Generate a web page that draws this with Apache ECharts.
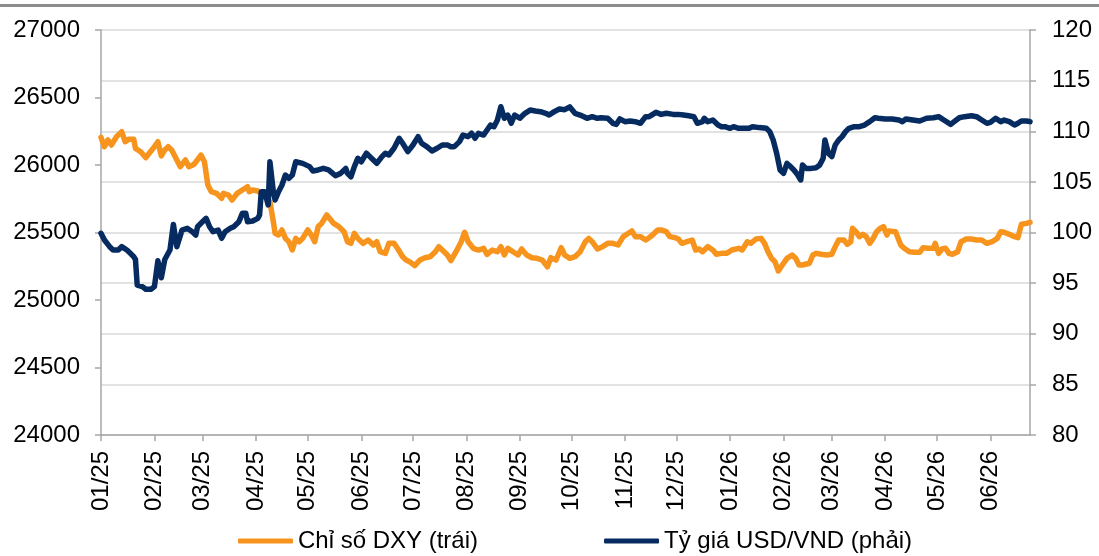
<!DOCTYPE html>
<html>
<head>
<meta charset="utf-8">
<script src="https://cdn.jsdelivr.net/npm/echarts@6/dist/echarts.min.js"></script>
<style>
html,body{margin:0;padding:0;background:#fff;}
#c{width:1099px;height:556px;}
</style>
</head>
<body>
<div id="c"></div>
<script>
// ---- data ----
const seriesNames = ['Chỉ số DXY (trái)', 'Tỷ giá USD/VND (phải)'];
const axisStart = '2025-01-01';
const axisEnd = '2026-06-24';

const dxyDates = ['2025-01-01','2025-01-03','2025-01-05','2025-01-07','2025-01-10','2025-01-13','2025-01-15','2025-01-17','2025-01-20','2025-01-21','2025-01-24','2025-01-27','2025-01-28','2025-01-30','2025-02-01','2025-02-03','2025-02-05','2025-02-07','2025-02-09','2025-02-11','2025-02-14','2025-02-16','2025-02-19','2025-02-21','2025-02-24','2025-02-25','2025-02-28','2025-03-02','2025-03-04','2025-03-06','2025-03-09','2025-03-12','2025-03-13','2025-03-16','2025-03-18','2025-03-21','2025-03-24','2025-03-27','2025-03-28','2025-03-30','2025-04-02','2025-04-07','2025-04-09','2025-04-11','2025-04-12','2025-04-14','2025-04-16','2025-04-18','2025-04-20','2025-04-22','2025-04-24','2025-04-26','2025-04-28','2025-05-01','2025-05-03','2025-05-05','2025-05-07','2025-05-09','2025-05-12','2025-05-13','2025-05-16','2025-05-19','2025-05-22','2025-05-24','2025-05-26','2025-05-28','2025-05-30','2025-06-02','2025-06-05','2025-06-08','2025-06-10','2025-06-12','2025-06-15','2025-06-17','2025-06-20','2025-06-22','2025-06-25','2025-06-27','2025-06-29','2025-07-02','2025-07-05','2025-07-08','2025-07-11','2025-07-14','2025-07-16','2025-07-18','2025-07-21','2025-07-23','2025-07-26','2025-07-29','2025-07-31','2025-08-02','2025-08-05','2025-08-08','2025-08-11','2025-08-13','2025-08-16','2025-08-19','2025-08-21','2025-08-23','2025-08-25','2025-08-28','2025-08-31','2025-09-02','2025-09-05','2025-09-08','2025-09-11','2025-09-14','2025-09-17','2025-09-19','2025-09-22','2025-09-25','2025-09-27','2025-09-30','2025-10-03','2025-10-06','2025-10-09','2025-10-11','2025-10-13','2025-10-14','2025-10-16','2025-10-19','2025-10-22','2025-10-25','2025-10-28','2025-10-31','2025-11-03','2025-11-05','2025-11-07','2025-11-10','2025-11-13','2025-11-15','2025-11-17','2025-11-20','2025-11-22','2025-11-25','2025-11-27','2025-11-30','2025-12-02','2025-12-04','2025-12-07','2025-12-10','2025-12-12','2025-12-14','2025-12-16','2025-12-19','2025-12-22','2025-12-24','2025-12-27','2025-12-30','2026-01-02','2026-01-06','2026-01-08','2026-01-11','2026-01-13','2026-01-16','2026-01-19','2026-01-21','2026-01-23','2026-01-25','2026-01-27','2026-01-29','2026-01-30','2026-02-01','2026-02-03','2026-02-06','2026-02-08','2026-02-10','2026-02-12','2026-02-16','2026-02-18','2026-02-20','2026-02-23','2026-02-26','2026-03-01','2026-03-03','2026-03-05','2026-03-08','2026-03-10','2026-03-12','2026-03-13','2026-03-15','2026-03-17','2026-03-19','2026-03-21','2026-03-23','2026-03-25','2026-03-27','2026-03-29','2026-03-31','2026-04-02','2026-04-03','2026-04-07','2026-04-10','2026-04-12','2026-04-15','2026-04-18','2026-04-21','2026-04-23','2026-04-26','2026-04-29','2026-04-30','2026-05-02','2026-05-04','2026-05-06','2026-05-08','2026-05-10','2026-05-13','2026-05-15','2026-05-18','2026-05-21','2026-05-24','2026-05-27','2026-05-30','2026-06-02','2026-06-05','2026-06-07','2026-06-09','2026-06-12','2026-06-15','2026-06-17','2026-06-19','2026-06-22','2026-06-24'];
const dxyValues = [109.40,108.47,109.14,108.64,109.46,109.96,108.97,109.20,109.20,108.31,107.98,107.39,107.49,108.05,108.47,108.97,107.56,108.15,108.47,108.15,107.16,106.50,107.16,106.50,106.74,106.60,107.65,106.99,104.69,104.03,103.87,103.38,103.87,103.70,103.21,103.87,104.20,104.52,104.03,104.20,104.10,103.38,103.05,101.07,99.92,99.75,100.25,99.42,99.09,98.27,99.42,99.09,99.42,100.25,99.75,99.09,100.58,100.90,101.73,101.56,100.90,100.58,100.08,99.09,98.93,99.92,99.42,98.93,99.26,98.77,99.09,98.10,97.94,98.93,98.93,98.44,97.61,97.28,97.12,96.72,97.28,97.51,97.61,98.10,98.60,98.27,97.78,97.22,98.10,99.09,100.02,99.09,98.44,98.27,98.44,97.85,98.27,98.10,98.60,97.78,98.44,98.10,97.78,98.37,97.78,97.51,97.45,97.28,96.62,97.51,97.28,98.50,97.78,97.45,97.61,98.10,99.09,99.42,99.09,99.16,98.37,98.60,98.93,98.93,98.77,99.59,99.92,100.15,99.59,99.59,99.26,99.49,99.75,100.25,100.25,100.08,99.59,99.49,99.36,98.93,99.09,99.26,98.27,98.37,98.10,98.60,98.27,97.85,97.94,97.94,98.27,98.44,98.27,99.09,98.93,99.36,99.42,98.93,98.10,97.45,97.12,96.20,96.30,96.96,97.45,97.78,97.45,96.79,96.79,96.96,97.78,97.94,97.85,97.78,97.85,98.60,99.26,99.26,98.83,99.09,100.41,100.08,99.59,99.82,99.59,98.93,99.42,100.08,100.40,100.58,99.75,100.15,100.08,98.77,98.44,98.10,98.04,98.04,98.50,98.44,98.44,98.93,97.94,98.37,98.44,97.94,97.85,98.10,99.09,99.36,99.36,99.26,99.26,98.93,99.09,99.42,100.08,100.02,99.82,99.59,99.49,100.81,100.90,101.00];

const vndDates = ['2025-01-01','2025-01-03','2025-01-06','2025-01-08','2025-01-11','2025-01-13','2025-01-16','2025-01-18','2025-01-20','2025-01-21','2025-01-22','2025-01-25','2025-01-27','2025-01-30','2025-02-01','2025-02-03','2025-02-05','2025-02-07','2025-02-10','2025-02-12','2025-02-14','2025-02-17','2025-02-20','2025-02-23','2025-02-25','2025-02-26','2025-02-28','2025-03-03','2025-03-05','2025-03-07','2025-03-10','2025-03-12','2025-03-14','2025-03-17','2025-03-19','2025-03-22','2025-03-24','2025-03-26','2025-03-27','2025-03-30','2025-04-02','2025-04-03','2025-04-04','2025-04-06','2025-04-08','2025-04-09','2025-04-11','2025-04-12','2025-04-14','2025-04-16','2025-04-18','2025-04-20','2025-04-22','2025-04-24','2025-04-25','2025-04-28','2025-05-02','2025-05-04','2025-05-07','2025-05-10','2025-05-13','2025-05-17','2025-05-20','2025-05-23','2025-05-24','2025-05-26','2025-05-28','2025-05-30','2025-06-01','2025-06-04','2025-06-06','2025-06-08','2025-06-10','2025-06-13','2025-06-15','2025-06-17','2025-06-20','2025-06-22','2025-06-23','2025-06-25','2025-06-28','2025-07-01','2025-07-04','2025-07-06','2025-07-09','2025-07-12','2025-07-15','2025-07-18','2025-07-21','2025-07-23','2025-07-25','2025-07-28','2025-07-30','2025-08-02','2025-08-04','2025-08-06','2025-08-08','2025-08-11','2025-08-13','2025-08-15','2025-08-17','2025-08-19','2025-08-21','2025-08-23','2025-08-25','2025-08-27','2025-08-29','2025-09-01','2025-09-04','2025-09-07','2025-09-10','2025-09-13','2025-09-16','2025-09-18','2025-09-21','2025-09-24','2025-09-27','2025-09-30','2025-10-03','2025-10-06','2025-10-10','2025-10-13','2025-10-16','2025-10-18','2025-10-22','2025-10-25','2025-10-27','2025-10-29','2025-11-01','2025-11-04','2025-11-07','2025-11-10','2025-11-13','2025-11-15','2025-11-19','2025-11-22','2025-11-25','2025-11-29','2025-12-02','2025-12-05','2025-12-08','2025-12-11','2025-12-13','2025-12-16','2025-12-17','2025-12-19','2025-12-22','2025-12-25','2025-12-27','2025-12-29','2026-01-01','2026-01-03','2026-01-06','2026-01-09','2026-01-12','2026-01-14','2026-01-18','2026-01-22','2026-01-24','2026-01-26','2026-01-28','2026-01-30','2026-02-01','2026-02-03','2026-02-05','2026-02-07','2026-02-09','2026-02-11','2026-02-12','2026-02-14','2026-02-17','2026-02-20','2026-02-22','2026-02-24','2026-02-25','2026-02-27','2026-03-01','2026-03-03','2026-03-05','2026-03-07','2026-03-09','2026-03-11','2026-03-12','2026-03-14','2026-03-17','2026-03-20','2026-03-23','2026-03-26','2026-03-28','2026-04-01','2026-04-05','2026-04-09','2026-04-11','2026-04-13','2026-04-17','2026-04-21','2026-04-25','2026-04-29','2026-05-02','2026-05-05','2026-05-09','2026-05-11','2026-05-14','2026-05-17','2026-05-21','2026-05-24','2026-05-27','2026-05-30','2026-06-01','2026-06-04','2026-06-07','2026-06-09','2026-06-12','2026-06-15','2026-06-17','2026-06-19','2026-06-22','2026-06-24'];
const vndValues = [25494,25444,25395,25370,25370,25395,25370,25346,25321,25300,25110,25099,25080,25080,25099,25290,25165,25300,25370,25560,25395,25518,25531,25506,25481,25543,25568,25605,25543,25506,25518,25457,25506,25531,25543,25580,25642,25642,25580,25585,25605,25630,25802,25802,25704,26024,25802,25741,25802,25852,25926,25901,25926,26024,26037,26012,25988,25956,25963,25975,25963,25921,25938,25975,25938,25913,25988,26050,26024,26087,26062,26037,26012,26062,26087,26074,26124,26173,26198,26161,26099,26148,26210,26161,26136,26104,26124,26148,26148,26136,26136,26173,26222,26210,26235,26198,26235,26222,26259,26296,26284,26333,26432,26346,26370,26309,26370,26346,26383,26407,26400,26395,26383,26370,26395,26415,26410,26430,26383,26370,26346,26358,26346,26350,26346,26309,26301,26341,26321,26326,26321,26309,26358,26358,26390,26375,26383,26375,26375,26370,26365,26358,26309,26321,26346,26321,26333,26296,26284,26284,26272,26284,26272,26272,26272,26284,26277,26272,26247,26185,26087,25963,25938,26012,25988,25963,25931,25889,26000,25975,25975,25980,26000,26050,26185,26087,26062,26148,26185,26210,26247,26272,26259,26284,26284,26296,26321,26350,26346,26341,26341,26333,26321,26341,26333,26326,26346,26350,26358,26333,26301,26321,26350,26358,26365,26358,26333,26309,26316,26346,26321,26333,26321,26296,26309,26326,26326,26321];

const leftTicks = {min: 24000, max: 27000, step: 500};
const rightTicks = {min: 80, max: 120, step: 5};

// ---- build category axis of calendar days ----
const days = [];
(function(){
  let t = Date.parse(axisStart + 'T00:00:00Z');
  const end = Date.parse(axisEnd + 'T00:00:00Z');
  while (t <= end) { days.push(new Date(t).toISOString().slice(0,10)); t += 86400000; }
})();
const dayIndex = {};
days.forEach((d,i)=>{ dayIndex[d] = i; });
const isMonthStart = (idx, val) => val.slice(8,10) === '01';

const FONT = '"Liberation Sans", Arial, sans-serif';
const GRAY = '#A6A6A6';

const chart = echarts.init(document.getElementById('c'), null, {renderer: 'canvas'});
chart.setOption({
  animation: false,
  backgroundColor: '#ffffff',
  textStyle: {fontFamily: FONT},
  graphic: [{
    type: 'rect', left: 0, top: 4, shape: {width: 1099, height: 3},
    style: {fill: '#8C8C8C'}, silent: true
  }],
  grid: {left: 101, right: 69, top: 30, bottom: 121},
  legend: {
    left: 238, top: 529, padding: 0,
    itemWidth: 55, itemHeight: 5, itemGap: 126,
    icon: 'roundRect',
    textStyle: {fontSize: 24, color: '#000', fontFamily: FONT},
    data: seriesNames
  },
  xAxis: {
    type: 'category', boundaryGap: false, data: days,
    axisLine: {lineStyle: {color: GRAY, width: 1.5}},
    axisTick: {interval: isMonthStart, length: 6, lineStyle: {color: GRAY, width: 1.5}},
    axisLabel: {
      interval: isMonthStart, rotate: 90, margin: 16,
      fontSize: 24, color: '#000', fontFamily: FONT,
      formatter: v => v.slice(5,7) + '/' + v.slice(2,4)
    },
    splitLine: {show: false}
  },
  yAxis: [{
    type: 'value', position: 'left',
    min: leftTicks.min, max: leftTicks.max, interval: leftTicks.step,
    axisLine: {show: true, lineStyle: {color: GRAY, width: 1.5}},
    axisTick: {show: true, length: 6, lineStyle: {color: GRAY, width: 1.5}},
    axisLabel: {fontSize: 24, color: '#000', margin: 21, fontFamily: FONT, formatter: v => String(v)},
    splitLine: {show: false}
  }, {
    type: 'value', position: 'right',
    min: rightTicks.min, max: rightTicks.max, interval: rightTicks.step,
    axisLine: {show: true, lineStyle: {color: GRAY, width: 1.5}},
    axisTick: {show: true, length: 6, lineStyle: {color: GRAY, width: 1.5}},
    axisLabel: {fontSize: 24, color: '#000', margin: 22, fontFamily: FONT, formatter: v => String(v)},
    splitLine: {show: true, lineStyle: {color: '#D9D9D9', width: 1.5}}
  }],
  series: [{
    name: seriesNames[0], type: 'line', yAxisIndex: 1,
    showSymbol: false, symbol: 'none',
    lineStyle: {color: '#F7941E', width: 5.5, join: 'round', cap: 'round'},
    itemStyle: {color: '#F7941E'},
    data: dxyDates.map((d,i)=>[dayIndex[d], dxyValues[i]])
  }, {
    name: seriesNames[1], type: 'line', yAxisIndex: 0,
    showSymbol: false, symbol: 'none',
    lineStyle: {color: '#062B60', width: 5.5, join: 'round', cap: 'round'},
    itemStyle: {color: '#062B60'},
    data: vndDates.map((d,i)=>[dayIndex[d], vndValues[i]])
  }]
});
</script>
</body>
</html>
